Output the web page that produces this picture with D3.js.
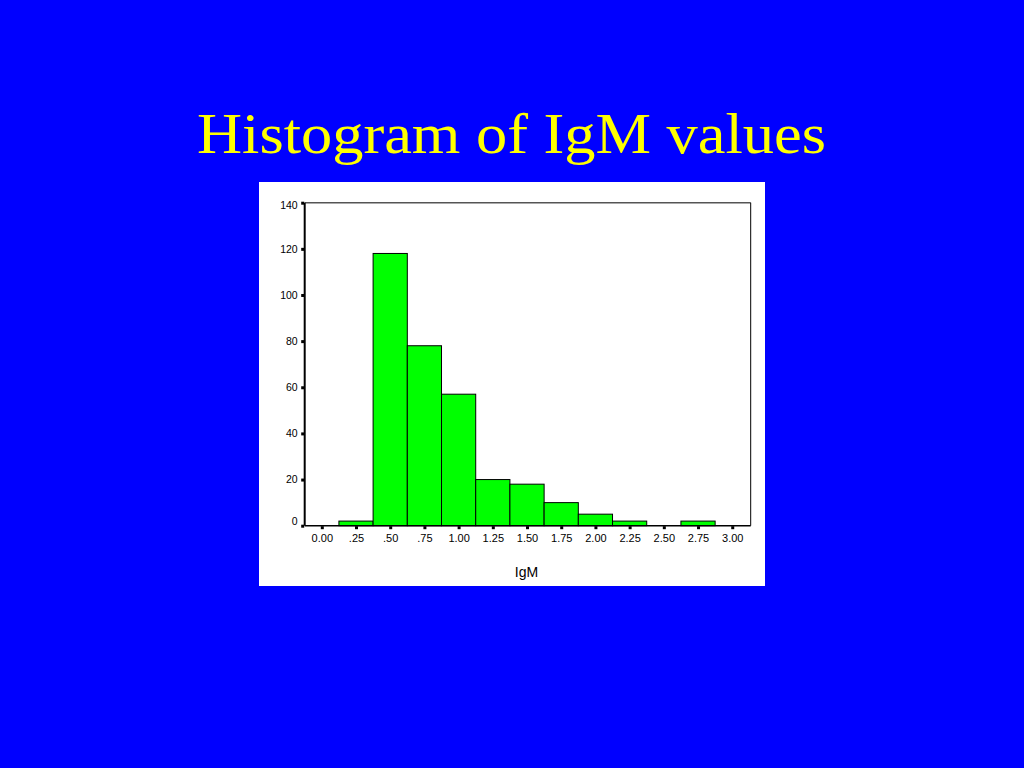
<!DOCTYPE html>
<html><head><meta charset="utf-8">
<script src="https://cdn.jsdelivr.net/npm/d3@7"></script>
<style>html,body{margin:0;padding:0;background:#0000ff;}svg{display:block;}</style>
</head><body>
<svg id="c" width="1024" height="768"></svg>
<script>
const title = "Histogram of IgM values";
const xLabel = "IgM";
const binCenters = [0.00, 0.25, 0.50, 0.75, 1.00, 1.25, 1.50, 1.75, 2.00, 2.25, 2.50, 2.75, 3.00];
const counts =     [0,    2,    118,  78,   57,   20,   18,   10,   5,    2,    0,    2,    0];
const xTickLabels = ["0.00", ".25", ".50", ".75", "1.00", "1.25", "1.50", "1.75", "2.00", "2.25", "2.50", "2.75", "3.00"];
const yTicks = [0, 20, 40, 60, 80, 100, 120, 140];
const binWidth = 0.25;

(function(){
const svg = d3.select("#c");
svg.append("rect").attr("width",1024).attr("height",768).attr("fill","#0000ff");

svg.append("text").attr("x",511.5).attr("y",153).attr("text-anchor","middle")
  .attr("font-family","'Liberation Serif','Times New Roman',serif").attr("font-size",58)
  .attr("textLength",629).attr("lengthAdjust","spacingAndGlyphs")
  .attr("fill","#ffff00").text(title);

// white panel
svg.append("rect").attr("x",259).attr("y",182).attr("width",506).attr("height",404).attr("fill","#ffffff");

const pL = 304.7, pR = 750.7, pT = 202.7, pB = 525.7;
const x = d3.scaleLinear().domain([-0.125, 3.135]).range([pL, pR]);
const y = d3.scaleLinear().domain([0, 140]).range([pB, pT]);

// frame
svg.append("line").attr("x1",pL).attr("x2",pR).attr("y1",pT).attr("y2",pT).attr("stroke","#555").attr("stroke-width",1.5);
svg.append("line").attr("x1",pR).attr("x2",pR).attr("y1",pT).attr("y2",pB).attr("stroke","#000").attr("stroke-width",1);

// bars
svg.append("g").selectAll("rect").data(binCenters.map((c,i)=>({c, n:counts[i]})).filter(d=>d.n>0))
  .join("rect")
  .attr("x", d=>x(d.c - binWidth/2))
  .attr("width", d=>x(d.c + binWidth/2) - x(d.c - binWidth/2))
  .attr("y", d=>y(d.n))
  .attr("height", d=>y(0)-y(d.n))
  .attr("fill","#00ff00").attr("stroke","#000").attr("stroke-width",1);

// axes lines
svg.append("line").attr("x1",pL).attr("x2",pL).attr("y1",pT).attr("y2",pB).attr("stroke","#000").attr("stroke-width",2);
svg.append("line").attr("x1",pL).attr("x2",pR).attr("y1",pB).attr("y2",pB).attr("stroke","#000").attr("stroke-width",1.5);

// y axis
const yAxis = d3.axisLeft(y).tickValues(yTicks).tickSize(0).tickPadding(7);
const gy = svg.append("g").attr("transform",`translate(${pL},0)`).call(yAxis);
gy.select(".domain").remove();
gy.selectAll("text").attr("font-family","Arial,'Liberation Sans',sans-serif").attr("font-size",10.5).attr("fill","#000")
  .attr("transform", d => d === 0 ? "translate(0,-5)" : (d === 140 ? "translate(0,2)" : null));
gy.selectAll(".tick").append("rect").attr("x",-3.5).attr("y",-1.5).attr("width",3).attr("height",3).attr("fill","#000");

// x axis
const xAxis = d3.axisBottom(x).tickValues(binCenters).tickFormat((d,i)=>xTickLabels[i]).tickSize(0).tickPadding(9);
const gx = svg.append("g").attr("transform",`translate(0,${pB})`).call(xAxis);
gx.select(".domain").remove();
gx.selectAll("text").attr("font-family","Arial,'Liberation Sans',sans-serif").attr("font-size",11).attr("fill","#000");
gx.selectAll(".tick").append("rect").attr("x",-1.5).attr("y",0.5).attr("width",3).attr("height",3).attr("fill","#000");

svg.append("text").attr("x",526.5).attr("y",577).attr("text-anchor","middle")
  .attr("font-family","Arial,'Liberation Sans',sans-serif").attr("font-size",14).attr("fill","#000").text(xLabel);
})();
</script>
</body></html>
